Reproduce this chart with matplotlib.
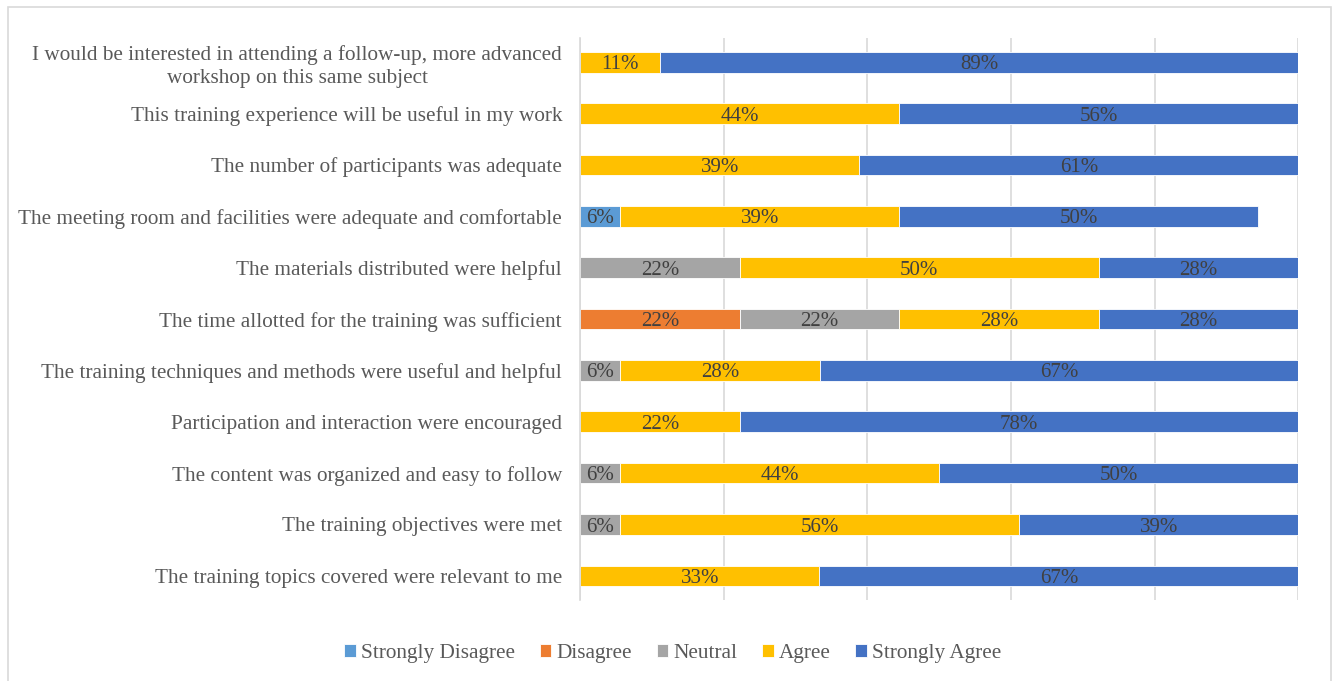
import matplotlib.pyplot as plt
from matplotlib.patches import Rectangle

plt.rcParams['font.family'] = ['Liberation Serif', 'DejaVu Serif']

# Questions, bottom to top
questions = [
    'The training topics covered were relevant to me',
    'The training objectives were met',
    'The content was organized and easy to follow',
    'Participation and interaction were encouraged',
    'The training techniques and methods were useful and helpful',
    'The time allotted for the training was sufficient',
    'The materials distributed were helpful',
    'The meeting room and facilities were adequate and comfortable',
    'The number of participants was adequate',
    'This training experience will be useful in my work',
    'I would be interested in attending a follow-up, more advanced\nworkshop on this same subject',
]

# Percent of responses per category (same order as questions)
strongly_disagree = [0, 0, 0, 0, 0, 0, 0, 5.56, 0, 0, 0]
disagree = [0, 0, 0, 0, 0, 22.22, 0, 0, 0, 0, 0]
neutral = [0, 5.56, 5.56, 0, 5.56, 22.22, 22.22, 0, 0, 0, 0]
agree = [33.33, 55.56, 44.44, 22.22, 27.78, 27.78, 50.0, 38.89, 38.89, 44.44, 11.11]
strongly_agree = [66.67, 38.89, 50.0, 77.78, 66.67, 27.78, 27.78, 50.0, 61.11, 55.56, 88.89]

series = [
    ('Strongly Disagree', strongly_disagree, '#5B9BD5'),
    ('Disagree', disagree, '#ED7D31'),
    ('Neutral', neutral, '#A5A5A5'),
    ('Agree', agree, '#FFC000'),
    ('Strongly Agree', strongly_agree, '#4472C4'),
]

fig = plt.figure(figsize=(13.35, 6.81), dpi=100)
ax = fig.add_axes([0.4345, 0.119, 0.538, 0.825])

y = list(range(len(questions)))
left = [0.0] * len(questions)
for name, vals, color in series:
    bars = ax.barh(y, vals, left=left, height=0.4, color=color,
                   edgecolor='white', linewidth=0.6, label=name)
    for b, v in zip(bars, vals):
        if v > 0:
            ax.text(b.get_x() + b.get_width() / 2, b.get_y() + b.get_height() / 2 - 0.05,
                    f'{round(v)}%', ha='center', va='center',
                    fontsize=15, color='#404040')
    left = [l + v for l, v in zip(left, vals)]

ax.set_xlim(0, 100)
ax.set_ylim(-0.47, 10.47)
ax.set_xticks([0, 20, 40, 60, 80, 100])
ax.set_xticklabels([])
ax.tick_params(axis='x', length=0)
ax.tick_params(axis='y', length=0, pad=13, labelsize=15.3, labelcolor='#595959')
ax.set_yticks(y)
ax.set_yticklabels(questions, ha='right', multialignment='center', linespacing=1.25)
ax.grid(axis='x', color='#D9D9D9', linewidth=1.2)
ax.set_axisbelow(True)
for s in ['top', 'right', 'bottom']:
    ax.spines[s].set_visible(False)
ax.spines['left'].set_color('#D9D9D9')
ax.spines['left'].set_linewidth(1.2)

fig.legend(loc='center', bbox_to_anchor=(0.504, 0.040), ncol=5, frameon=False,
           fontsize=15.3, labelcolor='#595959', handlelength=0.55, handleheight=0.55,
           handletextpad=0.25, columnspacing=1.15)

fig.patches.append(Rectangle((8 / 1335, -0.02), 1323 / 1335, 1 - 7 / 681 + 0.02,
                             transform=fig.transFigure, fill=False,
                             edgecolor='#D9D9D9', linewidth=1.2))

fig.savefig('out.png', dpi=100)
